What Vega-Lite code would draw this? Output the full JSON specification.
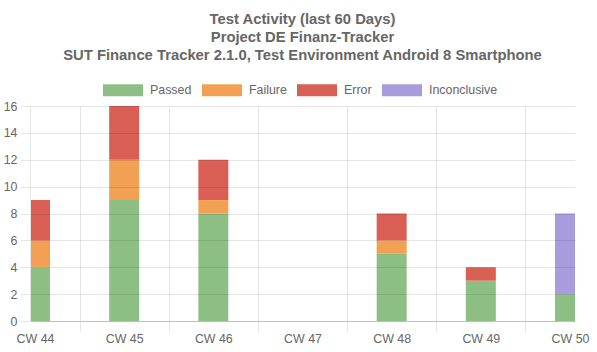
{
  "$schema": "https://vega.github.io/schema/vega-lite/v6.json",
  "width": 545,
  "height": 215,
  "autosize": "none",
  "padding": {"left": 30, "top": 106, "right": 22, "bottom": 31},
  "config": {
    "view": {"stroke": null},
    "font": "Liberation Sans"
  },
  "title": {
    "text": ["Test Activity (last 60 Days)", "Project DE Finanz-Tracker", "SUT Finance Tracker 2.1.0, Test Environment Android 8 Smartphone"],
    "fontSize": 14.8,
    "fontWeight": "bold",
    "color": "#666666",
    "lineHeight": 18,
    "anchor": "middle",
    "frame": "group",
    "offset": 7
  },
  "data": {
    "values": [
      {"week": 44, "status": "Passed", "count": 4},
      {"week": 44, "status": "Failure", "count": 2},
      {"week": 44, "status": "Error", "count": 3},
      {"week": 45, "status": "Passed", "count": 9},
      {"week": 45, "status": "Failure", "count": 3},
      {"week": 45, "status": "Error", "count": 4},
      {"week": 46, "status": "Passed", "count": 8},
      {"week": 46, "status": "Failure", "count": 1},
      {"week": 46, "status": "Error", "count": 3},
      {"week": 48, "status": "Passed", "count": 5},
      {"week": 48, "status": "Failure", "count": 1},
      {"week": 48, "status": "Error", "count": 2},
      {"week": 49, "status": "Passed", "count": 3},
      {"week": 49, "status": "Error", "count": 1},
      {"week": 50, "status": "Passed", "count": 2},
      {"week": 50, "status": "Inconclusive", "count": 6}
    ]
  },
  "mark": {"type": "bar", "width": 30, "clip": true},
  "encoding": {
    "x": {
      "field": "week",
      "type": "quantitative",
      "scale": {"domain": [44, 50], "nice": false, "zero": false},
      "axis": {
        "title": null,
        "values": [44, 44.5, 45, 45.5, 46, 46.5, 47, 47.5, 48, 48.5, 49, 49.5, 50],
        "labelExpr": "datum.value % 1 === 0 ? 'CW ' + datum.value : ''",
        "labelOverlap": false,
        "labelFlush": false,
        "labelBound": false,
        "labelFontSize": 12.4,
        "labelColor": "#666666",
        "labelPadding": 1,
        "grid": true,
        "gridColor": "#000000",
        "gridOpacity": {"condition": {"test": "datum.value % 1 === 0", "value": 0}, "value": 0.1},
        "ticks": true,
        "tickSize": 10,
        "tickColor": "#000000",
        "tickOpacity": {"condition": {"test": "datum.value % 1 === 0", "value": 0}, "value": 0.1},
        "domainColor": "#bfbfbf",
        "zindex": 1
      }
    },
    "y": {
      "field": "count",
      "type": "quantitative",
      "stack": "zero",
      "scale": {"domain": [0, 16], "nice": false},
      "axis": {
        "title": null,
        "values": [0, 2, 4, 6, 8, 10, 12, 14, 16],
        "labelFontSize": 12.4,
        "labelColor": "#666666",
        "labelPadding": 3,
        "grid": true,
        "gridColor": "#000000",
        "gridOpacity": 0.1,
        "tickSize": 10,
        "tickColor": "#e6e6e6",
        "domainColor": "#e6e6e6",
        "zindex": 1
      }
    },
    "color": {
      "field": "status",
      "type": "nominal",
      "sort": ["Passed", "Failure", "Error", "Inconclusive"],
      "scale": {
        "domain": ["Passed", "Failure", "Error", "Inconclusive"],
        "range": ["#8dbf84", "#f2a154", "#d95f55", "#a99cdd"]
      },
      "legend": {
        "title": null,
        "orient": "none",
        "direction": "horizontal",
        "legendX": 73,
        "legendY": -36,
        "symbolType": "M-1,-0.3H1V0.3H-1Z",
        "symbolSize": 1600,
        "symbolStrokeWidth": 0,
        "symbolOpacity": 1,
        "labelFontSize": 12.4,
        "labelColor": "#666666",
        "labelOffset": 7,
        "columnPadding": 10,
        "padding": 0
      }
    }
  }
}
